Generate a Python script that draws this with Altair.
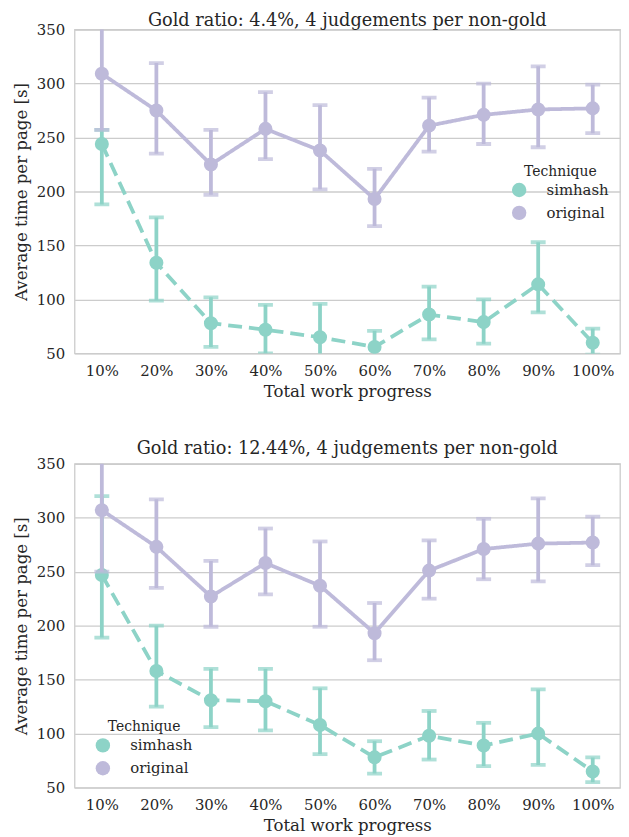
import altair as alt
import pandas as pd

progress = ["10%", "20%", "30%", "40%", "50%", "60%", "70%", "80%", "90%", "100%"]
techniques = ["simhash", "original"]
colors = ["#8dd3c7", "#bebada"]

# Panel 1: Gold ratio 4.4%
p1_simhash_mean = [244, 134, 78, 72, 65, 56, 86, 79, 114, 60]
p1_simhash_lo = [188, 99, 56, 50, 45, 44, 63, 59, 88, 49]
p1_simhash_hi = [257, 176, 102, 95, 96, 71, 112, 100, 153, 73]
p1_original_mean = [309, 275, 225, 258, 238, 193, 261, 271, 276, 277]
p1_original_lo = [257, 235, 197, 230, 202, 168, 237, 244, 241, 254]
p1_original_hi = [365, 319, 257, 292, 280, 221, 287, 300, 316, 299]

# Panel 2: Gold ratio 12.44%
p2_simhash_mean = [247, 158, 131, 130, 108, 78, 98, 89, 100, 65]
p2_simhash_lo = [189, 125, 106, 103, 81, 63, 76, 70, 71, 55]
p2_simhash_hi = [320, 200, 160, 160, 142, 93, 121, 110, 141, 78]
p2_original_mean = [307, 273, 227, 258, 237, 193, 251, 271, 276, 277]
p2_original_lo = [250, 235, 199, 229, 199, 168, 225, 243, 241, 256]
p2_original_hi = [365, 317, 260, 290, 278, 221, 279, 299, 318, 301]

titles = ["Gold ratio: 4.4%, 4 judgements per non-gold",
          "Gold ratio: 12.44%, 4 judgements per non-gold"]

FONT = "DejaVu Serif"
TXT = "#262626"


def make_df(sm, sl, sh, om, ol, oh):
    rows = []
    for i, p in enumerate(progress):
        rows.append(dict(progress=p, technique="simhash", mean=sm[i], lo=sl[i], hi=sh[i]))
    for i, p in enumerate(progress):
        rows.append(dict(progress=p, technique="original", mean=om[i], lo=ol[i], hi=oh[i]))
    return pd.DataFrame(rows)


def panel(df, title, legend_x, legend_y, title_offset):
    x = alt.X("progress:O", sort=progress, scale=alt.Scale(type="point", padding=0.5),
              axis=alt.Axis(title="Total work progress", labelAngle=0, ticks=False,
                            domain=False, grid=False, labelPadding=10, titlePadding=5))
    y_axis = alt.Axis(title="Average time per page [s]", values=[50, 100, 150, 200, 250, 300, 350],
                      ticks=False, domain=False, grid=True, labelPadding=10, titlePadding=6)
    yscale = alt.Scale(domain=[50, 350], nice=False, zero=False)
    color = alt.Color("technique:N", sort=techniques,
                      scale=alt.Scale(domain=techniques, range=colors),
                      legend=alt.Legend(title="Technique", orient="none", legendX=legend_x,
                                        legendY=legend_y, symbolType="circle", symbolSize=210,
                                        symbolStrokeWidth=0, symbolOpacity=1, titleAnchor="middle",
                                        titleAlign="center",
                                        titleFontWeight="normal", titleFontSize=14,
                                        labelFontSize=15, rowPadding=7, labelOffset=20,
                                        titleFont=FONT, labelFont=FONT, titleColor=TXT,
                                        labelColor=TXT, titlePadding=4))
    base = alt.Chart(df)
    layers = []
    for tech in techniques:
        b = base.transform_filter(alt.datum.technique == tech)
        dash = [14, 7] if tech == "simhash" else [1, 0]
        layers.append(b.mark_line(strokeWidth=3.8, strokeDash=dash, clip=True).encode(
            x=x, y=alt.Y("mean:Q", scale=yscale, axis=y_axis), color=color))
        layers.append(b.mark_rule(strokeWidth=3.8, clip=True).encode(
            x=x, y=alt.Y("lo:Q", scale=yscale), y2="hi:Q", color=color))
        layers.append(b.mark_tick(thickness=3.8, size=15, orient="horizontal", clip=True).encode(
            x=x, y=alt.Y("lo:Q", scale=yscale), color=color))
        layers.append(b.mark_tick(thickness=3.8, size=15, orient="horizontal", clip=True).encode(
            x=x, y=alt.Y("hi:Q", scale=yscale), color=color))
        layers.append(b.mark_circle(size=200, opacity=1, clip=True).encode(
            x=x, y=alt.Y("mean:Q", scale=yscale), color=color))
    return alt.layer(*layers).properties(
        width=549, height=326,
        title=alt.TitleParams(title, font=FONT, fontSize=17.8, fontWeight="normal", color=TXT,
                              offset=title_offset))


df1 = make_df(p1_simhash_mean, p1_simhash_lo, p1_simhash_hi, p1_original_mean, p1_original_lo, p1_original_hi)
df2 = make_df(p2_simhash_mean, p2_simhash_lo, p2_simhash_hi, p2_original_mean, p2_original_lo, p2_original_hi)

chart = alt.vconcat(
    panel(df1, titles[0], 440, 136, -7),
    panel(df2, titles[1], 21, 258, -1),
    spacing=38,
).resolve_legend(color="independent").properties(
    padding={"left": 4, "top": 0, "right": 0, "bottom": 0}, background="white"
).configure_view(
    stroke="#cccccc", strokeWidth=1.3
).configure_axis(
    labelFont=FONT, titleFont=FONT, labelFontSize=15, titleFontSize=16.7,
    labelColor=TXT, titleColor=TXT, titleFontWeight="normal", gridColor="#cccccc", gridWidth=1.3
)

chart.save("out.html", embed_options={"renderer": "svg", "actions": False})
